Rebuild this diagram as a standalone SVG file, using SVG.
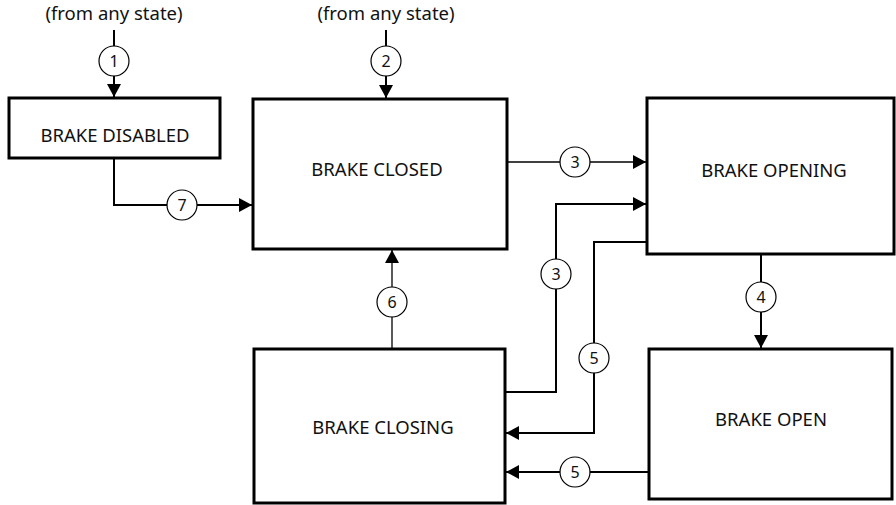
<svg xmlns="http://www.w3.org/2000/svg" width="896" height="505" viewBox="0 0 896 505">
<style>
.box{fill:#fff;stroke:#000;stroke-width:3}
.lbl{font-family:"Noto Sans","Open Sans",sans-serif;font-size:18.5px;fill:#111;text-anchor:middle}
.c{fill:#fff;stroke:#000;stroke-width:1.2}
.num{font-family:"Noto Sans","Open Sans",sans-serif;font-size:16px;fill:#111;text-anchor:middle}
.ln{fill:none;stroke:#000;stroke-width:2}
.thin{fill:none;stroke:#000;stroke-width:1.3}
</style>
<defs>
<marker id="ah" viewBox="0 0 13 14" refX="13" refY="7" markerWidth="13" markerHeight="14" markerUnits="userSpaceOnUse" orient="auto">
<path d="M0,0 L13,7 L0,14 Z" fill="#000"/>
</marker>
</defs>
<text class="lbl" x="114" y="20">(from any state)</text>
<text class="lbl" x="386" y="20">(from any state)</text>
<g id="connectors">
<path class="ln" d="M114,30 V97" marker-end="url(#ah)"/>
<path class="ln" d="M386,30 V98" marker-end="url(#ah)"/>
<path class="ln" d="M114,158 V205 H252" marker-end="url(#ah)"/>
<path class="thin" d="M508,162 H646" marker-end="url(#ah)"/>
<path class="ln" d="M506,392 H556 V204 H646" marker-end="url(#ah)"/>
<path class="ln" d="M646,242 H594 V433 H506" marker-end="url(#ah)"/>
<path class="ln" d="M761,255 V348" marker-end="url(#ah)"/>
<path class="thin" d="M392,348 V250" marker-end="url(#ah)"/>
<path class="ln" d="M648,472 H506" marker-end="url(#ah)"/>
<g id="labels">
<circle class="c" cx="114" cy="61" r="15"/><text class="num" x="114" y="66.5">1</text>
<circle class="c" cx="386" cy="61" r="15"/><text class="num" x="386" y="66.5">2</text>
<circle class="c" cx="575" cy="162" r="15"/><text class="num" x="575" y="167.5">3</text>
<circle class="c" cx="556" cy="274" r="15"/><text class="num" x="556" y="279.5">3</text>
<circle class="c" cx="761" cy="297" r="15"/><text class="num" x="761" y="302.5">4</text>
<circle class="c" cx="594" cy="358" r="15"/><text class="num" x="594" y="363.5">5</text>
<circle class="c" cx="575" cy="472" r="15"/><text class="num" x="575" y="477.5">5</text>
<circle class="c" cx="392" cy="302" r="15"/><text class="num" x="392" y="307.5">6</text>
<circle class="c" cx="182" cy="205" r="15"/><text class="num" x="182" y="210.5">7</text>
</g>
</g>
<g id="brake-disabled"><rect class="box" x="9" y="98" width="211" height="60"/><text class="lbl" x="115" y="142">BRAKE DISABLED</text></g>
<g id="brake-closed"><rect class="box" x="253" y="99" width="254" height="150"/><text class="lbl" x="377" y="176">BRAKE CLOSED</text></g>
<g id="brake-opening"><rect class="box" x="647" y="98" width="247" height="156"/><text class="lbl" x="774" y="177">BRAKE OPENING</text></g>
<g id="brake-closing"><rect class="box" x="254" y="349" width="251" height="154"/><text class="lbl" x="383" y="434">BRAKE CLOSING</text></g>
<g id="brake-open"><rect class="box" x="649" y="349" width="243" height="150"/><text class="lbl" x="771" y="426">BRAKE OPEN</text></g>
</svg>
